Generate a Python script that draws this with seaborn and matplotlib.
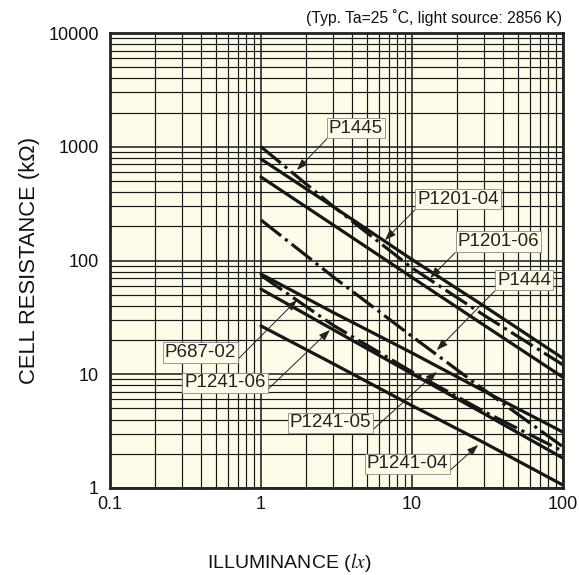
import matplotlib
matplotlib.use("Agg")
import numpy as np
import pandas as pd
import matplotlib.pyplot as plt
import seaborn as sns
from matplotlib.ticker import LogLocator, FixedLocator, FixedFormatter, NullFormatter

# ---------------- data ----------------
lux = [1, 3, 10, 30, 100]
p1445 = [1000, 300, 86, 33, 12.1]
p1201_04 = [780, 298, 102, 39.8, 13.8]
p1201_06 = [542, 206, 71, 27, 9.4]
p1444 = [227, 72, 21.5, 7.3, 2.3]
p687_02 = [74, 27, 10.5, 4.7, 2.1]
p1241_05 = [76, 35, 15.4, 7.1, 3.1]
p1241_06 = [56, 24.7, 10.1, 4.5, 1.83]
p1241_04 = [26.6, 12.4, 5.3, 2.5, 1.06]

series_names = ["P1445", "P1201-04", "P1201-06", "P1444",
                "P687-02", "P1241-05", "P1241-06", "P1241-04"]
series_values = [p1445, p1201_04, p1201_06, p1444,
                 p687_02, p1241_05, p1241_06, p1241_04]
dashed = {"P1445", "P1444", "P687-02"}

x_ticks = [0.1, 1, 10, 100]
x_tick_labels = ["0.1", "1", "10", "100"]
y_ticks = [1, 10, 100, 1000, 10000]
y_tick_labels = ["1", "10", "100", "1000", "10000"]

# label text, arrow tip (data), text centre (axes fraction), leader start corner
labels = [
    ("P1445", (1.73, 625), (0.543, 0.791), (0, 0)),
    ("P1201-04", (6.62, 151), (0.768, 0.635), (0, 0)),
    ("P1201-06", (13.2, 70.2), (0.857, 0.541), (0, 0)),
    ("P1444", (14.6, 16.3), (0.914, 0.457), (0, 0)),
    ("P687-02", (1.73, 45), (0.199, 0.297), (1, 0)),
    ("P1241-06", (2.86, 24.5), (0.254, 0.231), (1, 0)),
    ("P1241-05", (14.6, 10.5), (0.486, 0.143), (1, 0)),
    ("P1241-04", (27.4, 2.39), (0.656, 0.053), (1, 0)),
]

df = pd.DataFrame({
    "lux": np.tile(lux, len(series_names)),
    "resistance": np.concatenate(series_values),
    "model": np.repeat(series_names, len(lux)),
})

# ---------------- style ----------------
sns.set_theme(style="white")
plt.rcParams["font.family"] = ["Liberation Sans", "DejaVu Sans"]
plt.rcParams["mathtext.fontset"] = "stix"

BG = "#FEFBE8"
INK = "#161616"

fig = plt.figure(figsize=(5.79, 5.75), dpi=100)
fig.patch.set_facecolor("white")
ax = fig.add_axes([110 / 579, 1 - 488 / 575, 453 / 579, 455 / 575])
ax.set_facecolor(BG)
ax.set_xscale("log")
ax.set_yscale("log")
ax.set_xlim(0.1, 100)
ax.set_ylim(1, 10000)

# grid
ax.xaxis.set_minor_locator(LogLocator(base=10, subs=np.arange(2, 10)))
ax.yaxis.set_minor_locator(LogLocator(base=10, subs=np.arange(2, 10)))
ax.xaxis.set_minor_formatter(NullFormatter())
ax.yaxis.set_minor_formatter(NullFormatter())
ax.grid(which="major", color=INK, lw=1.1, zorder=0)
ax.grid(which="minor", color=INK, lw=0.85, zorder=0)
ax.set_axisbelow(True)

# curves
for name in series_names:
    sub = df[df["model"] == name]
    ls = (0, (8, 1.6, 1, 1.6)) if name in dashed else "-"
    sns.lineplot(data=sub, x="lux", y="resistance", ax=ax, color=INK,
                 lw=2.3, linestyle=ls, estimator=None, sort=False,
                 legend=False, zorder=3)

# ticks
ax.xaxis.set_major_locator(FixedLocator(x_ticks))
ax.xaxis.set_major_formatter(FixedFormatter(x_tick_labels))
ax.yaxis.set_major_locator(FixedLocator(y_ticks))
ax.yaxis.set_major_formatter(FixedFormatter(y_tick_labels))
ax.tick_params(which="both", length=0, labelsize=13, colors="#111")
ax.tick_params(axis="x", pad=6)
ax.tick_params(axis="y", pad=8)
ax.set_xlabel("")
ax.set_ylabel("")

for s in ax.spines.values():
    s.set_visible(True)
    s.set_color("#222")
    s.set_linewidth(2.0)
    s.set_zorder(5)

# labels with leaders
for text, tip, pos, corner in labels:
    ax.annotate(text, xy=tip, xycoords="data", xytext=pos,
                textcoords="axes fraction", ha="center", va="center",
                fontsize=13.5, color="#222", zorder=6,
                bbox=dict(boxstyle="square,pad=0.1", fc=BG, ec="#888", lw=0.6),
                arrowprops=dict(arrowstyle="-|>,head_length=0.5,head_width=0.18",
                                color="#222", lw=0.7, relpos=corner,
                                shrinkA=0, shrinkB=0))

# texts
fig.text(562 / 579, 1 - 18 / 575, "(Typ. Ta=25 \u02daC, light source: 2856 K)",
         ha="right", va="center", fontsize=11.3, color="#111")
fig.text(0.5, 1 - 562 / 575, "ILLUMINANCE ($\\it{lx}$)", ha="center",
         va="center", fontsize=14, color="#111")
fig.text(30 / 579, 1 - 260 / 575, "CELL RESISTANCE (k\u03a9)", ha="center",
         va="center", rotation=90, fontsize=15.8, color="#111")

fig.savefig("out.png", dpi=100, facecolor="white")
